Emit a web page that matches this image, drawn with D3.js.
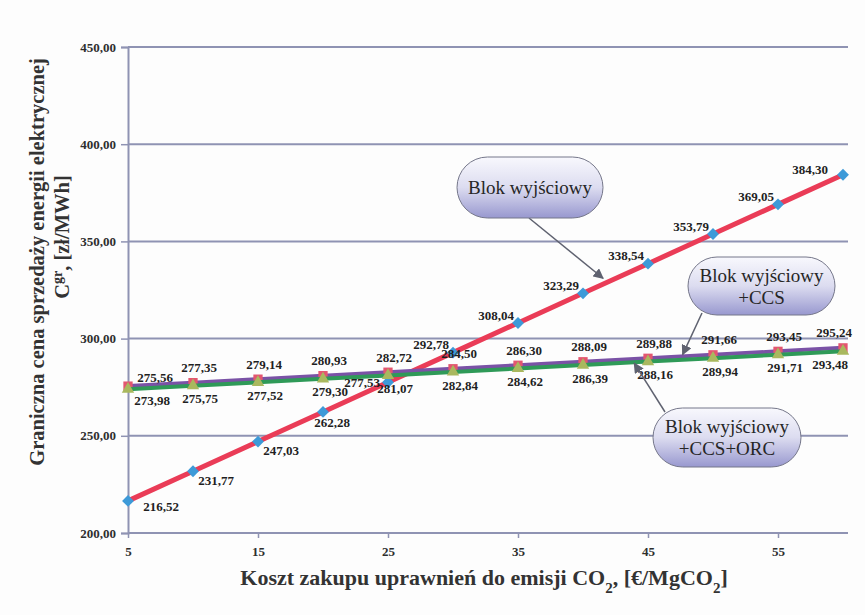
<!DOCTYPE html>
<html>
<head>
<meta charset="utf-8">
<script src="https://cdn.jsdelivr.net/npm/d3@7/dist/d3.min.js"></script>
<style>
  html, body { margin: 0; padding: 0; background: #fdfdfd; }
  svg { display: block; }
  text { font-family: "Liberation Serif", "DejaVu Serif", serif; }
</style>
</head>
<body>
<svg id="chart" width="865" height="615"></svg>
<script>
// Cost of CO2 emission allowances [€/MgCO2]
const categories = [5, 10, 15, 20, 25, 30, 35, 40, 45, 50, 55, 60];
// Limit electricity selling price [zł/MWh]
const blokValues = [216.52, 231.77, 247.03, 262.28, 277.53, 292.78, 308.04, 323.29, 338.54, 353.79, 369.05, 384.30];
const ccsValues  = [275.56, 277.35, 279.14, 280.93, 282.72, 284.50, 286.30, 288.09, 289.88, 291.66, 293.45, 295.24];
const orcValues  = [273.98, 275.75, 277.52, 279.30, 281.07, 282.84, 284.62, 286.39, 288.16, 289.94, 291.71, 293.48];
const yTicks = [200, 250, 300, 350, 400, 450];
const xTickLabels = [5, 15, 25, 35, 45, 55];
const calloutTexts = [["Blok wyjściowy"], ["Blok wyjściowy", "+CCS"], ["Blok wyjściowy", "+CCS+ORC"]];

const svg = d3.select("#chart");
const fmt = v => d3.format(".2f")(v).replace(".", ",");

const x = d3.scaleLinear().domain([5, 60]).range([128, 843]);
const y = d3.scaleLinear().domain([200, 450]).range([533, 47]);
const plotRight = 848;

const gridColor = "#8f93b3";

// horizontal gridlines
svg.append("g").selectAll("line").data(yTicks.slice(1)).join("line")
  .attr("x1", x(5)).attr("x2", plotRight)
  .attr("y1", d => y(d)).attr("y2", d => y(d))
  .attr("stroke", gridColor).attr("stroke-width", 2);

// y axis
const yAxis = svg.append("g").attr("transform", `translate(${x(5)},0)`)
  .call(d3.axisLeft(y).tickValues(yTicks).tickFormat(fmt).tickSize(7).tickPadding(5));
yAxis.attr("font-family", null);
yAxis.select(".domain").attr("stroke", gridColor).attr("stroke-width", 2);
yAxis.selectAll(".tick line").attr("stroke", gridColor).attr("stroke-width", 1.5);
yAxis.selectAll(".tick text")
  .attr("font-weight", "bold").attr("font-size", 13).attr("fill", "#2e2e2e");

// x axis
const xAxis = svg.append("g").attr("transform", `translate(0,${y(200)})`)
  .call(d3.axisBottom(x).tickValues(xTickLabels).tickFormat(d3.format("d")).tickSize(5).tickPadding(9));
xAxis.attr("font-family", null);
xAxis.select(".domain").attr("d", `M${x(5)},0H${plotRight}`).attr("stroke", gridColor).attr("stroke-width", 2);
xAxis.selectAll(".tick line").attr("stroke", gridColor).attr("stroke-width", 1.5);
xAxis.selectAll(".tick text")
  .attr("font-weight", "bold").attr("font-size", 13).attr("fill", "#2e2e2e");

// series
const series = [
  { name: "blok", values: blokValues, line: "#ea3c57", width: 5, marker: "diamond", fill: "#3d9ad8", size: 90 },
  { name: "ccs",  values: ccsValues,  line: "#7a52a6", width: 4, marker: "square",  fill: "#e35670", size: 110 },
  { name: "orc",  values: orcValues,  line: "#2f9a58", width: 4, marker: "triangle", fill: "#a9b85e", size: 110 }
];
const symbolType = { diamond: d3.symbolDiamond2, square: d3.symbolSquare2, triangle: d3.symbolTriangle2 };

const lineGen = d3.line().x((d, i) => x(categories[i])).y(d => y(d));

series.forEach(s => {
  const g = svg.append("g");
  g.append("path").datum(s.values).attr("d", lineGen)
    .attr("fill", "none").attr("stroke", s.line).attr("stroke-width", s.width)
    .attr("stroke-linejoin", "round");
  g.selectAll("path.m").data(s.values).join("path").attr("class", "m")
    .attr("transform", (d, i) => `translate(${x(categories[i])},${y(d)})`)
    .attr("d", d3.symbol().type(symbolType[s.marker]).size(s.size))
    .attr("fill", s.fill);
});

// data labels
const last = categories.length - 1;
function labelOffset(name, i) {
  if (name === "blok") {
    if (i === 0) return [33, 6];
    if (i < 4) return [i === 3 ? 9 : 23, i === 3 ? 11 : 9];
    if (i === 4) return [-26, 0];
    if (i === last) return [-33, -5];
    return [-22, -8];
  }
  if (name === "ccs") {
    if (i === 0) return [27, -9];
    if (i === last) return [-9, -15];
    return [6, -15];
  }
  if (i === 0) return [24, 11];
  if (i === last) return [-13, 13];
  return [7, 13];
}
series.forEach(s => {
  svg.append("g").selectAll("text").data(s.values).join("text")
    .attr("x", (d, i) => x(categories[i]) + labelOffset(s.name, i)[0])
    .attr("y", (d, i) => y(d) + labelOffset(s.name, i)[1])
    .attr("dy", "0.35em")
    .attr("text-anchor", "middle")
    .attr("font-weight", "bold").attr("font-size", 13)
    .attr("fill", "#1f1f1f")
    .text(d => fmt(d));
});

// axis titles
const yTitle = svg.append("g").attr("fill", "#333").attr("font-weight", "bold").attr("font-size", 20.5);
yTitle.append("text").attr("transform", "translate(44,262) rotate(-90)")
  .attr("text-anchor", "middle").text("Graniczna cena sprzedaży energii elektrycznej");
const yt2 = yTitle.append("text").attr("transform", "translate(69,237) rotate(-90)")
  .attr("text-anchor", "middle");
yt2.append("tspan").text("C");
yt2.append("tspan").attr("baseline-shift", "super").attr("font-size", 14).text("gr");
yt2.append("tspan").text(", [zł/MWh]");

const xt = svg.append("text").attr("x", 484).attr("y", 585)
  .attr("text-anchor", "middle").attr("fill", "#333")
  .attr("font-weight", "bold").attr("font-size", 22);
xt.append("tspan").text("Koszt zakupu uprawnień do emisji CO");
xt.append("tspan").attr("baseline-shift", "sub").attr("font-size", 15).text("2");
xt.append("tspan").text(", [€/MgCO");
xt.append("tspan").attr("baseline-shift", "sub").attr("font-size", 15).text("2");
xt.append("tspan").text("]");

// callouts
const defs = svg.append("defs");
const grad = defs.append("linearGradient").attr("id", "calloutFill")
  .attr("x1", 0).attr("y1", 0).attr("x2", 0).attr("y2", 1);
grad.append("stop").attr("offset", "0%").attr("stop-color", "#f8f8fd");
grad.append("stop").attr("offset", "50%").attr("stop-color", "#dcdcf0");
grad.append("stop").attr("offset", "100%").attr("stop-color", "#9898cf");
defs.append("marker").attr("id", "arrowHead").attr("viewBox", "0 0 10 10")
  .attr("refX", 9).attr("refY", 5).attr("markerWidth", 7).attr("markerHeight", 7)
  .attr("orient", "auto-start-reverse")
  .append("path").attr("d", "M0,0L10,5L0,10z").attr("fill", "#5f6270");

// value of a series at an arbitrary cost, read along its polyline
function valueAt(values, c) {
  const i = Math.min(Math.floor((c - categories[0]) / 5), values.length - 2);
  const t = (c - categories[i]) / 5;
  return values[i] + t * (values[i + 1] - values[i]);
}

const callouts = [
  { box: [457, 157, 146, 61], from: [529, 218], target: [41.9, blokValues], pull: 6 },
  { box: [688, 257, 147, 58], from: [702, 313], target: [47.6, ccsValues], pull: 2 },
  { box: [653, 408, 148, 59], from: [665, 412], target: [43.9, orcValues], pull: 1 }
];
callouts.forEach((c, k) => {
  const tx = x(c.target[0]), ty = y(valueAt(c.target[1], c.target[0]));
  const dx = tx - c.from[0], dy = ty - c.from[1], len = Math.hypot(dx, dy);
  svg.append("line")
    .attr("x1", c.from[0]).attr("y1", c.from[1])
    .attr("x2", tx - dx / len * c.pull).attr("y2", ty - dy / len * c.pull)
    .attr("stroke", "#5f6270").attr("stroke-width", 1.5)
    .attr("marker-end", "url(#arrowHead)");
  const [bx, by, bw, bh] = c.box;
  svg.append("rect").attr("x", bx).attr("y", by).attr("width", bw).attr("height", bh)
    .attr("rx", bh / 2).attr("ry", bh / 2)
    .attr("fill", "url(#calloutFill)").attr("stroke", "#75778a").attr("stroke-width", 1);
  const lines = calloutTexts[k];
  const t = svg.append("text").attr("text-anchor", "middle")
    .attr("font-size", 19).attr("fill", "#262626");
  lines.forEach((ln, j) => {
    t.append("tspan").attr("x", bx + bw / 2)
      .attr("y", by + bh / 2 + (j - (lines.length - 1) / 2) * 22)
      .attr("dy", "0.35em").text(ln);
  });
});
</script>
</body>
</html>
